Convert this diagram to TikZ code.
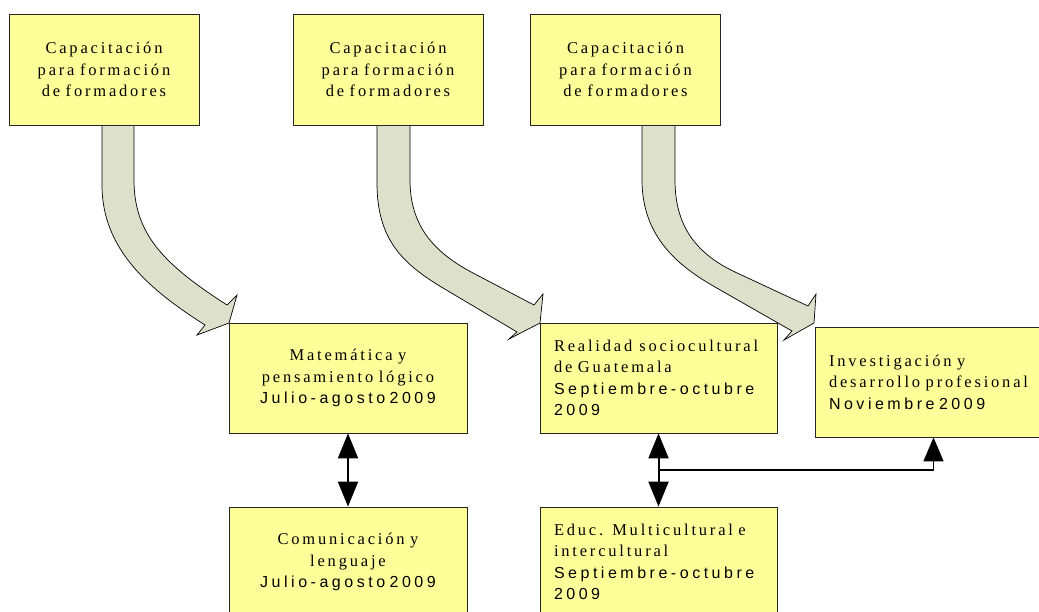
\documentclass[tikz,border=0pt]{standalone}
\usepackage{fontspec}
\setmainfont{Liberation Serif}
\newfontfamily\serifls{Liberation Serif}[LetterSpace=17]
\newfontfamily\sansls{Liberation Sans}[LetterSpace=22]
\usetikzlibrary{arrows.meta}
\definecolor{boxyellow}{RGB}{255,255,153}
\definecolor{arrowfill}{RGB}{221,225,204}
\newcommand\ws{\hspace{5.5pt}}
\newcommand\dws{\hspace{4.5pt}}
\newcommand\datetxt[1]{{\sansls\fontsize{16}{21.5}\selectfont #1}}
\begin{document}
\begin{tikzpicture}[x=1pt,y=-1pt,
  box/.style={draw=black!85, line width=0.8pt, fill=boxyellow, inner sep=0pt,
    font=\serifls\fontsize{16.5}{21.5}\selectfont},
  topbox/.style={box, minimum width=190pt, minimum height=111pt, text width=180pt, align=center},
  cbox/.style={box, minimum width=238pt, minimum height=110pt, text width=224pt, align=center},
  lbox/.style={box, minimum width=237pt, minimum height=110pt, text width=209pt, inner xsep=14pt, align=left},
  blockarrow/.style={draw=black, line width=0.7pt, fill=arrowfill, line join=miter},
  dbl/.style={line width=2pt, {Triangle[width=20pt,length=25pt]}-{Triangle[width=20pt,length=25pt]}},
  single/.style={line width=1.5pt, -{Triangle[width=20pt,length=24pt]}}
]
\useasboundingbox (0,0) rectangle (1039,611);
\clip (0,0) rectangle (1039,611);

% block arrows
\draw[blockarrow] (102,125) -- (102,185) .. controls (102,250) and (150,290) .. (205,325)
  -- (197,335) -- (229,323) -- (237,295) -- (227,305)
  .. controls (165,265) and (134,235) .. (134,180) -- (134,125) -- cycle;
\draw[blockarrow] (377,125) -- (377,183) .. controls (377,240) and (403,264) .. (443,288)
  -- (517,332) -- (509,339) -- (540,323) -- (543,294) -- (534,305) -- (473,273)
  .. controls (433,252) and (410,225) .. (410,180) -- (410,125) -- cycle;
\draw[blockarrow] (642,125) -- (642,180) .. controls (642,238) and (680,267) .. (715,287)
  -- (792,331) -- (784,340) -- (814,323) -- (816,294) -- (808,306) -- (735,272)
  .. controls (695,253) and (675,225) .. (675,180) -- (675,125) -- cycle;

% top boxes
\node[topbox] (t1) at (104,69.5) {Capacitación\\para\ws formación\\de\ws formadores};
\node[topbox] (t2) at (388,69.5) {Capacitación\\para\ws formación\\de\ws formadores};
\node[topbox] (t3) at (625.5,69.5) {Capacitación\\para\ws formación\\de\ws formadores};

% middle boxes
\node[cbox] (m1) at (348,378) {Matemática\ws y\\pensamiento\ws lógico\\\datetxt{Julio-agosto\dws 2009}};
\node[lbox] (m2) at (658.5,378) {Realidad\hspace{7pt}sociocultural\\de\ws Guatemala\\\datetxt{Septiembre-octubre}\\\datetxt{2009}};
\node[lbox] (m3) at (933.5,382) {Investigación\ws y\\desarrollo\ws profesional\\\datetxt{Noviembre\dws 2009}};

% bottom boxes
\node[cbox] (b1) at (348,562) {Comunicación\ws y\\lenguaje\\\datetxt{Julio-agosto\dws 2009}};
\node[lbox] (b2) at (658.5,562) {Educ.\hspace{9pt}Multicultural\ws e\\intercultural\\\datetxt{Septiembre-octubre}\\\datetxt{2009}};

% connectors
\draw[dbl] (m1.south) -- (b1.north);
\draw[dbl] (m2.south) -- (b2.north);
\coordinate (j) at (658.5,470);
\draw[single] (j) -| (m3.south);
\end{tikzpicture}
\end{document}
